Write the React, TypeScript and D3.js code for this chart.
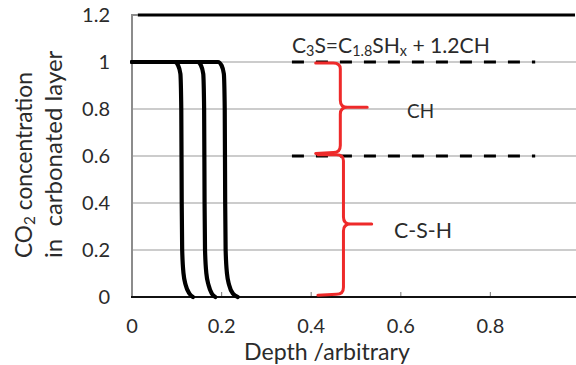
import React, { useLayoutEffect, useRef, useState } from "react";
import * as d3 from "d3";

// ---- data ----
const xTicks = [0, 0.2, 0.4, 0.6, 0.8];
const yTicks = [0, 0.2, 0.4, 0.6, 0.8, 1, 1.2];
const gridLevels = [0.2, 0.4, 0.6, 0.8, 1.0];

// carbonation profiles: concentration vs depth, three times
const profileConc = [1, 1, 0.985, 0.95, 0.8, 0.4, 0.2, 0.1, 0.05, 0.015, 0];
const depthT1 = [0, 0.095, 0.103, 0.108, 0.11, 0.111, 0.112, 0.115, 0.12, 0.128, 0.136];
const depthT2 = [0, 0.146, 0.154, 0.159, 0.161, 0.162, 0.163, 0.166, 0.171, 0.178, 0.186];
const depthT3 = [0, 0.192, 0.2, 0.205, 0.207, 0.208, 0.209, 0.212, 0.217, 0.225, 0.236];

// phase boundaries (dashed)
const phaseLevels = [1.0, 0.6];
const phaseDepthRange = [0.357, 0.9];

// braces: [top, bottom] concentration spans
const braceSpans = [
  [1.0, 0.615],
  [0.61, 0.012],
];
const braceLabels = ["CH", "C-S-H"];

const W = 576;
const H = 365;

type FitProps = {
  target: number;
  base: number;
  children: React.ReactNode;
  [k: string]: any;
};

function FitText({ target, base, children, ...rest }: FitProps) {
  const ref = useRef<SVGTextElement>(null);
  const [size, setSize] = useState(base);
  const iter = useRef(0);
  useLayoutEffect(() => {
    const el = ref.current;
    if (!el || iter.current > 4) return;
    const w = el.getBBox().width;
    if (w > 0) {
      const ns = (size * target) / w;
      if (Math.abs(ns - size) > 0.05) {
        iter.current += 1;
        setSize(ns);
      }
    }
  }, [size, target]);
  return (
    <text ref={ref} fontSize={size} {...rest}>
      {children}
    </text>
  );
}

export default function App() {
  const x = d3.scaleLinear().domain([0, 1]).range([132, 580]);
  const y = d3.scaleLinear().domain([0, 1.2]).range([297, 15]);

  const line = d3
    .line<[number, number]>()
    .x((d) => x(d[0]))
    .y((d) => y(d[1]))
    .curve(d3.curveMonotoneX);

  const profiles = [depthT1, depthT2, depthT3].map((dep) =>
    dep.map((dx, i) => [dx, profileConc[i]] as [number, number])
  );

  const font = "Lato, 'Open Sans', sans-serif";
  const txt = "#2b2b2b";

  const braceGeo = [
    { x0: 0.41, xs: 0.465, xt: 0.525 },
    { x0: 0.415, xs: 0.472, xt: 0.535 },
  ];
  const bracePath = (i: number) => {
    const g = braceGeo[i];
    const [t, b] = braceSpans[i];
    const x0 = x(g.x0), xs = x(g.xs), xt = x(g.xt);
    const yt = y(t), yb = y(b), ym = (yt + yb) / 2;
    const r = 7;
    return [
      `M${x0},${yt + 1}`,
      `L${xs - r},${yt + 1}`,
      `Q${xs},${yt + 1} ${xs},${yt + r}`,
      `L${xs},${ym - r}`,
      `Q${xs},${ym} ${xs + r},${ym}`,
      `L${xt},${ym}`,
      `M${xs + r},${ym}`,
      `Q${xs},${ym} ${xs},${ym + r}`,
      `L${xs},${yb - r}`,
      `Q${xs},${yb} ${xs - r},${yb}`,
      `L${x0},${yb + 1}`,
    ].join(" ");
  };

  return (
    <svg
      width={W}
      height={H}
      style={{ position: "absolute", left: 0, top: 0, background: "#fff" }}
      fontFamily={font}
    >
      {/* gridlines */}
      {gridLevels.map((v) => (
        <line key={v} x1={x(0)} x2={W} y1={y(v)} y2={y(v)} stroke="#9a9a9a" strokeWidth={1.2} />
      ))}
      {/* frame */}
      <line x1={x(0)} x2={x(0)} y1={y(1.2) - 1} y2={y(0)} stroke="#8c8c8c" strokeWidth={2} />
      <line x1={x(0)} x2={x(0.013)} y1={y(1.2)} y2={y(1.2)} stroke="#8c8c8c" strokeWidth={2} />
      <line x1={x(0.013)} x2={575} y1={y(1.2)} y2={y(1.2)} stroke="#000" strokeWidth={3} />
      {/* x ticks */}
      {xTicks.slice(1).map((v) => (
        <line key={v} x1={x(v)} x2={x(v)} y1={y(0)} y2={y(0) - 5} stroke="#8c8c8c" strokeWidth={1.2} />
      ))}
      <line x1={x(0) - 1} x2={W} y1={y(0)} y2={y(0)} stroke="#111" strokeWidth={2} />

      {/* dashed phase lines */}
      {phaseLevels.map((v) => (
        <line
          key={v}
          x1={x(phaseDepthRange[0])}
          x2={x(phaseDepthRange[1])}
          y1={y(v)}
          y2={y(v)}
          stroke="#000"
          strokeWidth={3}
          strokeDasharray="12,12"
        />
      ))}

      {/* braces */}
      {braceSpans.map((_, i) => (
        <path key={i} d={bracePath(i)} fill="none" stroke="#ee2a2a" strokeWidth={3} strokeLinecap="round" />
      ))}

      {/* profiles */}
      {profiles.map((p, i) => (
        <path key={i} d={line(p) || ""} fill="none" stroke="#000" strokeWidth={4.2} strokeLinejoin="round" strokeLinecap="round" />
      ))}

      {/* y tick labels */}
      {yTicks.map((v) => (
        <text key={v} x={110} y={y(v)} dy="0.36em" textAnchor="end" fontSize={20} fill={txt}>
          {String(v)}
        </text>
      ))}
      {/* x tick labels */}
      {xTicks.map((v) => (
        <text key={v} x={x(v)} y={333} textAnchor="middle" fontSize={20} fill={txt}>
          {String(v)}
        </text>
      ))}
      {/* x title */}
      <FitText target={166} base={24} x={327} y={360} textAnchor="middle" fill={txt}>
        Depth /arbitrary
      </FitText>
      {/* y title */}
      <FitText target={186} base={24} transform="translate(32,258) rotate(-90)" fill={txt}>
        CO<tspan dy="0.22em" fontSize="0.68em">2</tspan>
        <tspan dy="-0.15em"> concentration</tspan>
      </FitText>
      <FitText target={208} base={24} transform="translate(62,258) rotate(-90)" fill={txt} style={{ whiteSpace: "pre" }}>
        {"in  carbonated layer"}
      </FitText>

      {/* annotations */}
      <FitText target={198} base={22} x={x(0.357)} y={53} fill={txt}>
        C<tspan dy="0.2em" fontSize="0.68em">3</tspan>
        <tspan dy="-0.136em">S=C</tspan>
        <tspan dy="0.2em" fontSize="0.68em">1.8</tspan>
        <tspan dy="-0.136em">SH</tspan>
        <tspan dy="0.2em" fontSize="0.68em">x</tspan>
        <tspan dy="-0.136em"> + 1.2CH</tspan>
      </FitText>
      <FitText target={27} base={22} x={x(0.614)} y={118} fill={txt}>
        {braceLabels[0]}
      </FitText>
      <FitText target={58} base={22} x={x(0.585)} y={238} fill={txt}>
        {braceLabels[1]}
      </FitText>
    </svg>
  );
}
